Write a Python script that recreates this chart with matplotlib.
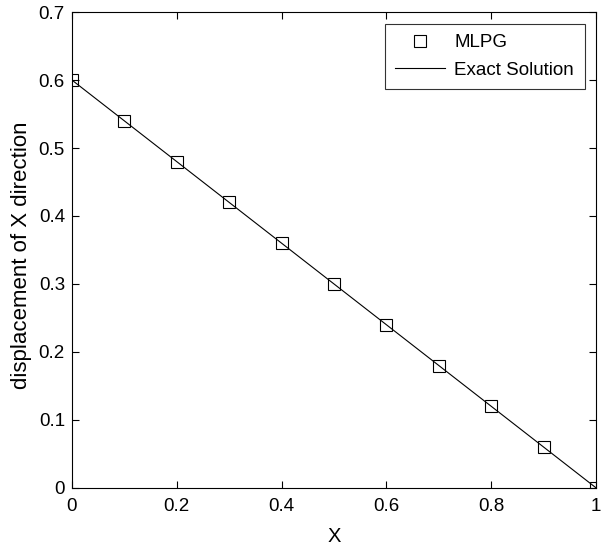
import numpy as np
import matplotlib.pyplot as plt

plt.rcParams['font.family'] = ['Liberation Sans', 'DejaVu Sans']

# MLPG nodal values and exact solution
x_mlpg = [0.0, 0.1, 0.2, 0.3, 0.4, 0.5, 0.6, 0.7, 0.8, 0.9, 1.0]
u_mlpg = [0.60, 0.54, 0.48, 0.42, 0.36, 0.30, 0.24, 0.18, 0.12, 0.06, 0.0]
x_exact = [0.0, 1.0]
u_exact = [0.6, 0.0]

fig = plt.figure(figsize=(6.04, 5.47), dpi=100)
ax = fig.add_axes([0.119, 0.108, 0.868, 0.870])

ax.plot(x_mlpg, u_mlpg, 's', mfc='none', mec='black', ms=9, mew=0.8, label='MLPG')
ax.plot(x_exact, u_exact, '-', color='black', lw=0.8, label='Exact Solution')

ax.set_xlim(0, 1)
ax.set_ylim(0, 0.7)
ax.set_xticks([0, 0.2, 0.4, 0.6, 0.8, 1])
ax.set_xticklabels(['0', '0.2', '0.4', '0.6', '0.8', '1'])
ax.set_yticks([0, 0.1, 0.2, 0.3, 0.4, 0.5, 0.6, 0.7])
ax.set_yticklabels(['0', '0.1', '0.2', '0.3', '0.4', '0.5', '0.6', '0.7'])
ax.tick_params(direction='in', top=True, right=True, labelsize=13.5, length=5, width=0.8)
ax.tick_params(axis='x', pad=7)
ax.tick_params(axis='y', pad=5)
for s in ax.spines.values():
    s.set_linewidth(0.8)

ax.set_xlabel('X', fontsize=14.5, labelpad=9)
ax.set_ylabel('displacement of X direction', fontsize=16)
ax.yaxis.set_label_coords(-0.076, 0.489)

leg = ax.legend(loc='upper right', fontsize=13.5, frameon=True, fancybox=False,
                edgecolor='black', borderaxespad=0.62, handlelength=2.67,
                handletextpad=0.48, labelspacing=0.55, borderpad=0.55)
leg.get_frame().set_linewidth(0.8)

fig.savefig('out.png', dpi=100)
